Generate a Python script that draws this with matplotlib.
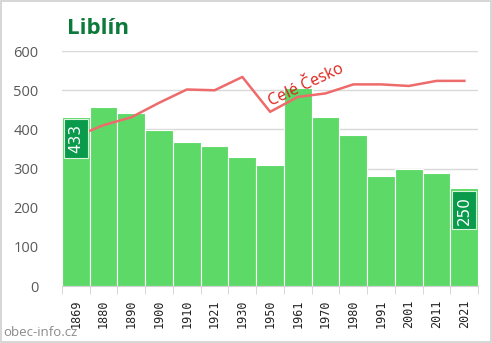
import matplotlib.pyplot as plt
import numpy as np

roky = ['1869', '1880', '1890', '1900', '1910', '1921', '1930', '1950',
        '1961', '1970', '1980', '1991', '2001', '2011', '2021']
obyvatele = [433, 457, 442, 398, 368, 357, 329, 309, 506, 431, 386, 282, 300, 289, 250]
cele_cesko = [382, 411, 431, 468, 502, 500, 534, 445, 483, 492, 515, 515, 511, 524, 524]
popisky = {0: 433, 14: 250}

fig = plt.figure(figsize=(4.92, 3.43), dpi=100)
ax = fig.add_axes([0.126, 0.166, 0.846, 0.685])

x = np.arange(len(roky))
ax.bar(x, obyvatele, width=1.0, color='#5dd968', edgecolor='white', linewidth=0.8, zorder=2)
ax.plot(x, cele_cesko, color='#ee6b6b', linewidth=1.8, zorder=3)

# popisky hodnot v tmave zelenem boxu
for i, v in popisky.items():
    ax.text(i, v - 56, str(v), rotation=90, ha='center', va='center',
            color='white', fontsize=11, family='DejaVu Sans', zorder=5,
            bbox=dict(boxstyle='square,pad=0.3', fc='#0a9a4c', ec='#d8f5dc', lw=0.8))

ax.text(8.3, 513, 'Celé Česko', rotation=25, color='#dc2018', fontsize=11.5,
        family='Open Sans', ha='center', va='center', zorder=4)

ax.set_xlim(-0.5, len(roky) - 0.5)
ax.set_ylim(0, 600)
ax.set_yticks(range(0, 601, 100))
ax.yaxis.grid(True, color='#d9d9d9', linewidth=1, zorder=0)
ax.set_axisbelow(True)
for s in ['top', 'right', 'left']:
    ax.spines[s].set_visible(False)
ax.spines['bottom'].set_color('#d0d0d0')
ax.tick_params(axis='y', length=0, pad=17, labelsize=10.5, labelcolor='#595959')
for t in ax.get_yticklabels():
    t.set_family('Open Sans')

ax.set_xticks(x)
ax.set_xticklabels(roky, rotation=90, family='DejaVu Sans Mono', fontsize=8.5, color='#222222')
ax.tick_params(axis='x', length=0, pad=10)
ax.set_xticks(np.arange(-0.5, len(roky), 1.0), minor=True)
ax.tick_params(axis='x', which='minor', length=6, color='#d0d0d0')

fig.text(0.137, 0.918, 'Liblín', fontsize=16, fontweight='bold', color='#0b7a3b',
         family='Open Sans', va='center')
fig.text(0.006, 0.03, 'obec-info.cz', fontsize=9.5, color='#8a8a8a', family='Open Sans', va='center')

# ramecek kolem obrazku
fig.patches.append(plt.Rectangle((0.002, 0.003), 0.995, 0.994, transform=fig.transFigure,
                                 fill=False, edgecolor='#cfcfcf', linewidth=1.2))

fig.savefig('out.png', dpi=100)
